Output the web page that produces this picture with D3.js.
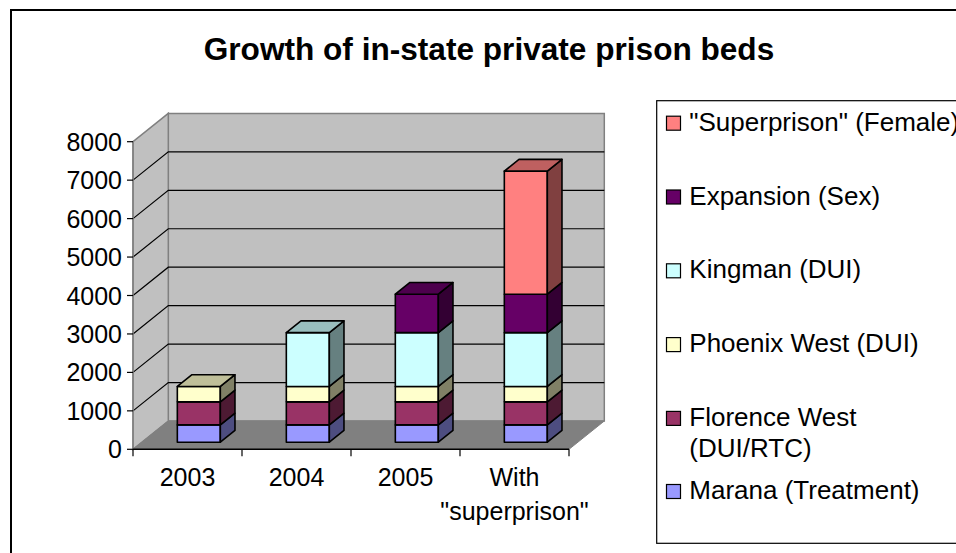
<!DOCTYPE html>
<html>
<head>
<meta charset="utf-8">
<script src="https://cdn.jsdelivr.net/npm/d3@7.9.0/dist/d3.min.js"></script>
<style>
  html, body { margin: 0; padding: 0; background: #fff; }
  svg { display: block; font-family: "Liberation Sans", Arial, sans-serif; }
</style>
</head>
<body>
<svg id="chart" width="956" height="553"></svg>
<script>
// categories and series (beds)
const categories = ["2003", "2004", "2005", "With\n\"superprison\""];
const seriesNames = ["Marana (Treatment)", "Florence West\n(DUI/RTC)", "Phoenix West (DUI)",
  "Kingman (DUI)", "Expansion (Sex)", "\"Superprison\" (Female)"];
const marana      = [450, 450, 450, 450];
const florence    = [600, 600, 600, 600];
const phoenix     = [400, 400, 400, 400];
const kingman     = [0, 1400, 1400, 1400];
const expansion   = [0, 0, 1000, 1000];
const superprison = [0, 0, 0, 3200];
const yTicks = [0, 1000, 2000, 3000, 4000, 5000, 6000, 7000, 8000];

const fronts = ["#9999FF", "#993366", "#FFFFCC", "#CCFFFF", "#660066", "#FF8080"];

const seriesValues = [marana, florence, phoenix, kingman, expansion, superprison];
const keys = seriesNames.map((_, i) => "s" + i);
const rows = categories.map((c, j) => {
  const r = { cat: c };
  seriesValues.forEach((vals, i) => r[keys[i]] = vals[j]);
  return r;
});
const stacked = d3.stack().keys(keys)(rows);

const svg = d3.select("#chart");

// front-plane scales plus oblique depth
const x = d3.scaleBand().domain(categories).range([133, 569]).paddingInner(0).paddingOuter(0);
const y = d3.scaleLinear().domain([0, 8000]).range([449.3, 141.7]);
const DX = 35.3, DY = -28.3;
const P = (px, v, t) => [px + t * DX, y(v) + t * DY];
const pts = a => a.map(p => p.join(",")).join(" ");

const shade = (c, k) => {
  const o = d3.rgb(c);
  return d3.rgb(o.r * k, o.g * k, o.b * k).formatHex();
};

// outer border
svg.append("rect").attr("x", 11).attr("y", 10).attr("width", 980).attr("height", 600)
  .attr("fill", "none").attr("stroke", "#000").attr("stroke-width", 2);

// title
svg.append("text").attr("x", 489).attr("y", 60).attr("text-anchor", "middle")
  .attr("font-size", 31.6).attr("font-weight", "bold")
  .text("Growth of in-state private prison beds");

const x0 = x.range()[0], x1 = x.range()[1];
const vMax = y.domain()[1];

// walls and floor
svg.append("polygon").attr("points", pts([P(x0, 0, 1), P(x1, 0, 1), P(x1, vMax, 1), P(x0, vMax, 1)]))
  .attr("fill", "#C0C0C0").attr("stroke", "#808080").attr("stroke-width", 1.5);
svg.append("polygon").attr("points", pts([P(x0, 0, 0), P(x0, 0, 1), P(x0, vMax, 1), P(x0, vMax, 0)]))
  .attr("fill", "#C0C0C0").attr("stroke", "#808080").attr("stroke-width", 1.5);
svg.append("polygon").attr("points", pts([P(x0, 0, 0), P(x1, 0, 0), P(x1, 0, 1), P(x0, 0, 1)]))
  .attr("fill", "#808080").attr("stroke", "#808080").attr("stroke-width", 1);

// gridlines
const grid = yTicks.filter(v => v > 0 && v < vMax);
grid.forEach(v => {
  const a = P(x0, v, 0), b = P(x0, v, 1), c = P(x1, v, 1);
  svg.append("polyline").attr("points", pts([a, b, c]))
    .attr("fill", "none").attr("stroke", "#000").attr("stroke-width", 1.2);
});

// axes
svg.append("line").attr("x1", x0).attr("x2", x0).attr("y1", y(0)).attr("y2", y(vMax))
  .attr("stroke", "#808080").attr("stroke-width", 1.5);
svg.append("line").attr("x1", x0).attr("x2", x1).attr("y1", y(0)).attr("y2", y(0))
  .attr("stroke", "#000").attr("stroke-width", 1.5);

yTicks.forEach(v => {
  svg.append("line").attr("x1", x0 - 6).attr("x2", x0).attr("y1", y(v)).attr("y2", y(v))
    .attr("stroke", "#000").attr("stroke-width", 1.2);
  svg.append("text").attr("x", x0 - 11).attr("y", y(v) + 9)
    .attr("text-anchor", "end").attr("font-size", 25).text(v);
});

const bounds = categories.map(c => x(c)).concat([x1]);
bounds.forEach(bx => {
  svg.append("line").attr("x1", bx).attr("x2", bx).attr("y1", y(0)).attr("y2", y(0) + 7)
    .attr("stroke", "#000").attr("stroke-width", 1.2);
});

categories.forEach(c => {
  const lines = c.split("\n");
  const t = svg.append("text").attr("text-anchor", "middle").attr("font-size", 25);
  lines.forEach((ln, k) => {
    t.append("tspan").attr("x", x(c) + x.bandwidth() / 2).attr("y", 485.5 + k * 34).text(ln);
  });
});

// bars
const t0 = 0.25, t1 = 0.665;
const barOff = 35.5, barW = 43;
categories.forEach((c, j) => {
  const bl = x(c) + barOff, br = bl + barW;
  const segs = stacked.map((s, i) => ({ i, lo: s[j][0], hi: s[j][1] })).filter(d => d.hi > d.lo);
  const g = svg.append("g").attr("stroke", "#000").attr("stroke-width", 1.6).attr("stroke-linejoin", "round");
  segs.forEach((d, k) => {
    const col = fronts[d.i];
    g.append("polygon")
      .attr("points", pts([P(bl, d.lo, t0), P(br, d.lo, t0), P(br, d.hi, t0), P(bl, d.hi, t0)]))
      .attr("fill", col);
    g.append("polygon")
      .attr("points", pts([P(br, d.lo, t0), P(br, d.lo, t1), P(br, d.hi, t1), P(br, d.hi, t0)]))
      .attr("fill", shade(col, 0.5));
    if (k === segs.length - 1) {
      g.append("polygon")
        .attr("points", pts([P(bl, d.hi, t0), P(br, d.hi, t0), P(br, d.hi, t1), P(bl, d.hi, t1)]))
        .attr("fill", shade(col, 0.75));
    }
  });
});

// legend
svg.append("rect").attr("x", 656.7).attr("y", 100.7).attr("width", 400).attr("height", 442.6)
  .attr("fill", "#fff").attr("stroke", "#000").attr("stroke-width", 1.2);

const order = d3.range(seriesNames.length).reverse();
const legendY = k => k < 5 ? 130.7 + k * 73.8 : 499;
order.forEach((i, k) => {
  const by = legendY(k);
  svg.append("rect").attr("x", 666.5).attr("y", by - 14.5).attr("width", 14).attr("height", 14)
    .attr("fill", fronts[i]).attr("stroke", "#000").attr("stroke-width", 1.2);
  const t = svg.append("text").attr("font-size", 26);
  seriesNames[i].split("\n").forEach((ln, m) => {
    t.append("tspan").attr("x", 689.3).attr("y", by + m * 31.5).text(ln);
  });
});
</script>
</body>
</html>
